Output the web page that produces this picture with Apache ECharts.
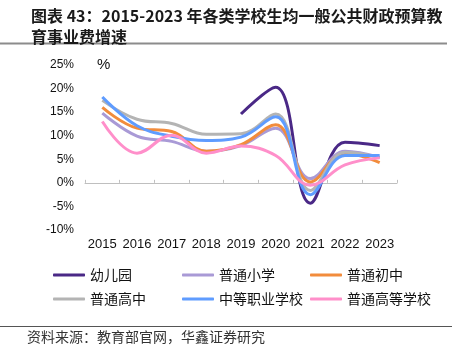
<!DOCTYPE html>
<html>
<head>
<meta charset="utf-8">
<script src="https://cdn.jsdelivr.net/npm/echarts@6/dist/echarts.min.js"></script>
<style>
  html, body { margin: 0; padding: 0; background: #fff; }
  #chart { width: 457px; height: 354px; }
</style>
</head>
<body>
<div id="chart"></div>
<script>
const years = ['2015', '2016', '2017', '2018', '2019', '2020', '2021', '2022', '2023'];
const names = ['幼儿园', '普通小学', '普通初中', '普通高中', '中等职业学校', '普通高等学校'];
const colors = ['#4a2886', '#a99ad6', '#f28c3c', '#b4b4b4', '#5f9cff', '#ff8fca'];

const kindergarten = [null, null, null, null, 14.6, 20.3, -4.3, 8.6, 7.9];
const primary = [14.8, 9.9, 8.8, 6.7, 7.9, 11.6, 0.9, 6.7, 5.4];
const juniorHigh = [16.0, 11.6, 10.9, 6.7, 8.1, 12.3, 0.2, 6.3, 4.3];
const seniorHigh = [17.5, 13.5, 12.6, 10.3, 10.4, 14.6, -1.6, 6.5, 5.4];
const vocational = [18.2, 12.1, 9.9, 9.0, 9.7, 14.0, -2.5, 5.8, 5.8];
const higherEd = [13.0, 6.3, 10.1, 6.3, 7.8, 5.8, -0.5, 3.8, 5.3];

const seriesData = [kindergarten, primary, juniorHigh, seniorHigh, vocational, higherEd];

// legend columns, top to bottom
const legendCols = [
    ['幼儿园', '普通高中'],
    ['普通小学', '中等职业学校'],
    ['普通初中', '普通高等学校']
];
const legendLeft = [48, 177, 305];

const cjk = '"Noto Sans CJK SC", sans-serif';
const latin = '"Liberation Sans", Arial, sans-serif';

const myChart = echarts.init(document.getElementById('chart'));

const option = {
    animation: false,
    color: colors,
    title: {
        text: '图表 43：2015-2023 年各类学校生均一般公共财政预算教\n育事业费增速',
        left: 26,
        top: 0,
        textStyle: {
            fontFamily: cjk,
            fontSize: 16,
            fontWeight: 'bold',
            lineHeight: 21,
            color: '#1a1a1a'
        }
    },
    legend: legendCols.map((col, i) => ({
        orient: 'vertical',
        left: legendLeft[i],
        top: 262,
        icon: 'roundRect',
        itemWidth: 32,
        itemHeight: 3,
        itemGap: 8,
        data: col,
        textStyle: { fontFamily: cjk, fontSize: 14, lineHeight: 16, color: '#111', padding: [0, 0, 0, 0] }
    })),
    grid: { left: 85, right: 60, top: 65, height: 165 },
    xAxis: [
        {
            type: 'category',
            data: years,
            position: 'bottom',
            boundaryGap: true,
            axisLine: { show: false, onZero: false },
            axisTick: { show: false },
            axisLabel: { interval: 0, hideOverlap: false, fontFamily: latin, fontSize: 13, color: '#111', margin: 8 },
            splitLine: { show: false }
        },
        {
            type: 'category',
            data: years,
            position: 'top',
            boundaryGap: true,
            axisLine: { show: true, onZero: true, lineStyle: { color: '#bfbfbf', width: 1 } },
            axisTick: { show: true, interval: 0, length: 3, lineStyle: { color: '#bfbfbf' } },
            axisLabel: { show: false },
            splitLine: { show: false }
        }
    ],
    yAxis: {
        type: 'value',
        min: -10,
        max: 25,
        interval: 5,
        axisLine: { show: false },
        axisTick: { show: false },
        splitLine: { show: false },
        axisLabel: {
            formatter: '{value}%',
            fontFamily: latin,
            fontSize: 12,
            color: '#111',
            margin: 11
        }
    },
    series: names.map((name, i) => ({
        name: name,
        type: 'line',
        data: seriesData[i],
        smooth: 0.4,
        showSymbol: false,
        connectNulls: false,
        lineStyle: { width: 3, color: colors[i] },
        itemStyle: { color: colors[i] }
    })),
    graphic: [
        {
            type: 'text',
            left: 97,
            top: 57,
            style: { text: '%', fontFamily: latin, fontSize: 15, fill: '#111' }
        },
        {
            type: 'line',
            shape: { x1: 0, y1: 43.5, x2: 447, y2: 43.5 },
            style: { stroke: '#8c8c8c', lineWidth: 2 }
        },
        {
            type: 'line',
            shape: { x1: 0, y1: 326.5, x2: 452, y2: 326.5 },
            style: { stroke: '#555', lineWidth: 1 }
        },
        {
            type: 'text',
            left: 27,
            top: 330,
            style: { text: '资料来源：教育部官网，华鑫证券研究', fontFamily: cjk, fontSize: 14, fill: '#333' }
        }
    ]
};

myChart.setOption(option);
</script>
</body>
</html>
